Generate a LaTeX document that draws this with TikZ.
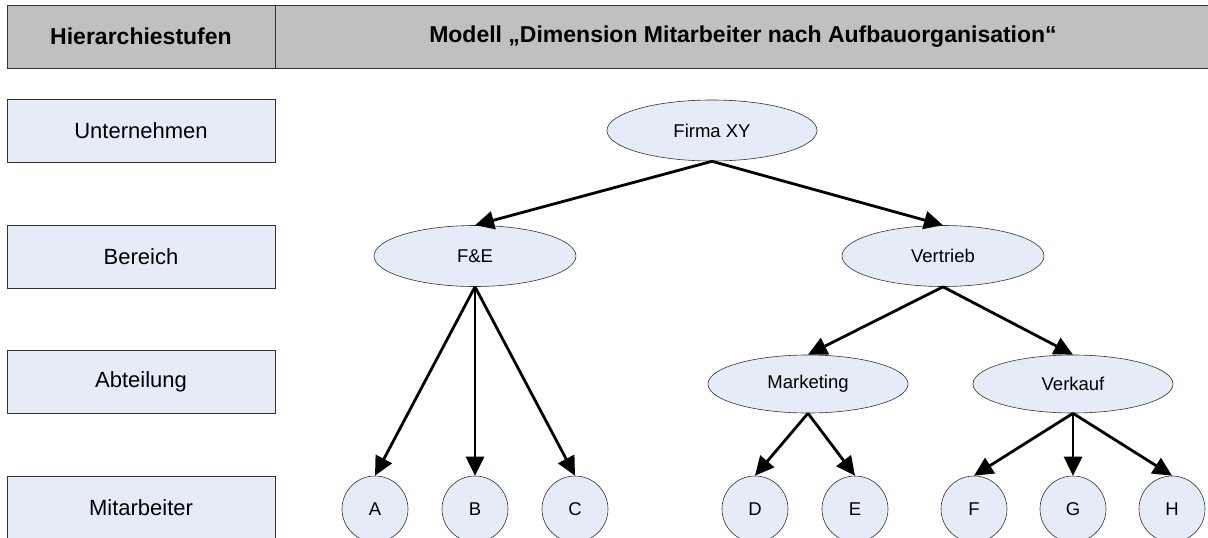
\documentclass[tikz,border=0pt]{standalone}
\usepackage{fontspec}
\setmainfont{Liberation Sans}
\usepackage{tikz}
\usetikzlibrary{shapes,arrows.meta}
\definecolor{hellblau}{RGB}{230,236,247}
\definecolor{kopfgrau}{RGB}{192,192,192}
\tikzstyle{kopf}=[draw=black!80,fill=kopfgrau,line width=0.8pt,font=\fontsize{23}{26}\selectfont\bfseries,minimum height=63pt,inner sep=0pt]
\tikzstyle{stufe}=[draw=black!80,fill=hellblau,line width=0.8pt,font=\fontsize{22}{26}\selectfont,minimum width=268pt,minimum height=63pt,inner sep=0pt]
\tikzstyle{einheit}=[ellipse,draw=black!80,fill=hellblau,line width=0.6pt,font=\fontsize{18.5}{22}\selectfont,minimum width=202pt,minimum height=61pt,inner sep=0pt]
\tikzstyle{person}=[ellipse,draw=black!80,fill=hellblau,line width=0.6pt,font=\fontsize{18.5}{22}\selectfont,minimum width=66pt,minimum height=66pt,inner sep=0pt]
\tikzstyle{kante}=[line width=2.8pt,-{Triangle[length=19pt,width=18pt]}]

\begin{document}
\begin{tikzpicture}[x=1pt,y=-1pt]
    \useasboundingbox (0,0) rectangle (1208,538);
    % Kopfzeile
    \node[kopf,minimum width=268pt] (k1) at (141,36.5) {Hierarchiestufen};
    \node[kopf,minimum width=936pt] (k2) at (743,36.5) {Modell „Dimension Mitarbeiter nach Aufbauorganisation“};
    % Hierarchiestufen
    \node[stufe] (s1) at (141,130.5) {Unternehmen};
    \node[stufe] (s2) at (141,256.5) {Bereich};
    \node[stufe] (s3) at (141,381.5) {Abteilung};
    \node[stufe] (s4) at (141,507.5) {Mitarbeiter};
    % Organisation
    \node[einheit,minimum width=210pt] (fxy) at (712,130.5) {Firma XY};
    \node[einheit] (fe)  at (475,256) {F\&E};
    \node[einheit] (ver) at (943,256) {Vertrieb};
    \node[einheit,minimum width=200pt,minimum height=58pt] (mar) at (808,384) {Marketing};
    \node[einheit,minimum width=200pt,minimum height=58pt] (vka) at (1073,384) {Verkauf};
    % Mitarbeiter
    \node[person] (a) at (375,509) {A};
    \node[person] (b) at (475,509) {B};
    \node[person] (c) at (575,509) {C};
    \node[person] (d) at (755,509) {D};
    \node[person] (e) at (855,509) {E};
    \node[person] (f) at (974,509) {F};
    \node[person] (g) at (1073,509) {G};
    \node[person] (h) at (1172,509) {H};
    % Kanten
    \draw[kante] (fxy.south) -- (fe.north);
    \draw[kante] (fxy.south) -- (ver.north);
    \draw[kante] (fe.south) -- (a.north);
    \draw[kante] (fe.south) -- (b.north);
    \draw[kante] (fe.south) -- (c.north);
    \draw[kante] (ver.south) -- (mar.north);
    \draw[kante] (ver.south) -- (vka.north);
    \draw[kante] (mar.south) -- (d.north);
    \draw[kante] (mar.south) -- (e.north);
    \draw[kante] (vka.south) -- (f.north);
    \draw[kante] (vka.south) -- (g.north);
    \draw[kante] (vka.south) -- (h.north);
\end{tikzpicture}
\end{document}
